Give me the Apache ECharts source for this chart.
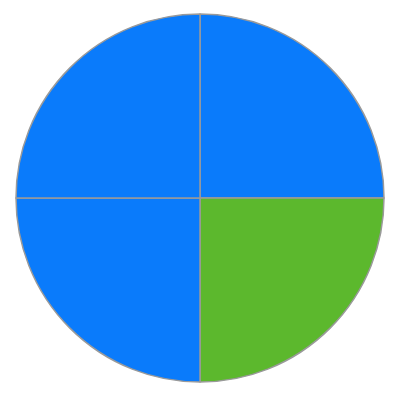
<!DOCTYPE html>
<html><head><meta charset="utf-8">
<script src="https://cdn.jsdelivr.net/npm/echarts@6/dist/echarts.min.js"></script>
<style>html,body{margin:0;padding:0;background:#fff}#c{width:400px;height:400px}</style>
</head><body><div id="c"></div>
<script>
const categories = ['A', 'B', 'C', 'D'];
const values = [1, 1, 1, 1];
const colors = ['#0a7bfb', '#5cb82d', '#0a7bfb', '#0a7bfb'];
const chart = echarts.init(document.getElementById('c'), null, {renderer: 'canvas'});
chart.setOption({
  animation: false,
  series: [{
    type: 'pie',
    center: [200, 198],
    radius: 184,
    startAngle: 90,
    clockwise: true,
    label: {show: false},
    labelLine: {show: false},
    itemStyle: {borderColor: '#9a9a9a', borderWidth: 1.5},
    data: categories.map((n, i) => ({name: n, value: values[i], itemStyle: {color: colors[i]}}))
  }]
});
</script></body></html>
